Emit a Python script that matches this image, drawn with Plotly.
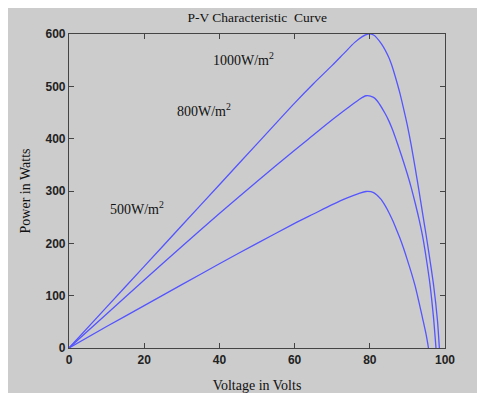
import plotly.graph_objects as go

# Voltage (V) and power (W)
v_1000 = [0, 10, 20, 30, 40, 50, 60, 65, 70, 73, 76, 78, 79.5, 81, 83, 85, 86, 87, 88, 89, 90, 91, 92, 93, 94, 95, 96, 97, 98, 98.5]
p_1000 = [0, 78, 156, 234, 312, 390, 468, 505, 540, 562, 584, 595, 600, 598, 582, 556, 537, 513, 487, 457, 425, 388, 347, 304, 259, 215, 168, 118, 52, 0]

v_800 = [0, 10, 20, 30, 40, 50, 60, 65, 70, 74, 77, 79, 81, 82, 84, 85, 86, 87, 88, 89, 90, 91, 92, 93, 94, 95, 96, 96.5, 97, 97.6]
p_800 = [0, 65, 130, 194, 257, 318, 378, 407, 436, 458, 474, 482, 479, 472, 449, 435, 418, 398, 377, 355, 332, 307, 279, 249, 215, 172, 122, 90, 54, 0]

v_500 = [0, 10, 20, 30, 40, 50, 60, 65, 70, 74, 77, 79, 81, 83, 84, 85, 86, 87, 88, 89, 90, 91, 92, 93, 94, 95, 95.6]
p_500 = [0, 41, 81, 121, 161, 200, 238, 256, 274, 287, 295, 299, 297, 284, 273, 260, 245, 228, 210, 190, 168, 145, 120, 90, 58, 25, 0]

labels = ["1000W/m<sup>2</sup>", "800W/m<sup>2</sup>", "500W/m<sup>2</sup>"]
label_v = [46.5, 36.0, 18.0]
label_p = [553, 454, 267]

x_ticks = [0, 20, 40, 60, 80, 100]
y_ticks = [0, 100, 200, 300, 400, 500, 600]

line_color = "rgb(85,85,255)"
serif = "Liberation Serif, Times New Roman, serif"
sans = "Liberation Sans, Arial, sans-serif"

fig = go.Figure()
for v, p in [(v_1000, p_1000), (v_800, p_800), (v_500, p_500)]:
    fig.add_trace(go.Scatter(x=v, y=p, mode="lines", line=dict(color=line_color, width=1.3, shape="spline", smoothing=0.8),
                             showlegend=False, hoverinfo="skip", cliponaxis=True))

for t, xv, yv in zip(labels, label_v, label_p):
    fig.add_annotation(x=xv, y=yv, text=t, showarrow=False, font=dict(family=serif, size=14, color="#111"))

# grey panel behind everything
fig.add_shape(type="rect", xref="paper", yref="paper", x0=-0.5, x1=1.5, y0=-0.5, y1=1.5,
              fillcolor="#cccccc", line=dict(width=0), layer="below")

axis_common = dict(showgrid=False, zeroline=False, showline=True, linecolor="#444", linewidth=1.2,
                   mirror="allticks", ticks="inside", ticklen=5, tickcolor="#444", automargin=False,
                   tickfont=dict(family=sans, size=12, color="#222", weight="bold"))

fig.update_xaxes(range=[0, 100], tickvals=x_ticks, title=dict(text="Voltage in Volts", font=dict(family=serif, size=14, color="#111"), standoff=14),
                 **axis_common)
fig.update_yaxes(range=[0, 600], tickvals=y_ticks, title=dict(text="Power in Watts", font=dict(family=serif, size=14, color="#111"), standoff=11),
                 **axis_common)

fig.update_layout(
    width=485, height=393,
    margin=dict(l=61, r=48, t=26, b=53, autoexpand=False),
    paper_bgcolor="white", plot_bgcolor="white",
    title=dict(text="P-V Characteristic  Curve", x=0.514, xanchor="center", y=0.977, yanchor="middle",
               font=dict(family=serif, size=13.5, color="#111"), automargin=False),
)

fig.write_html("out.html")
